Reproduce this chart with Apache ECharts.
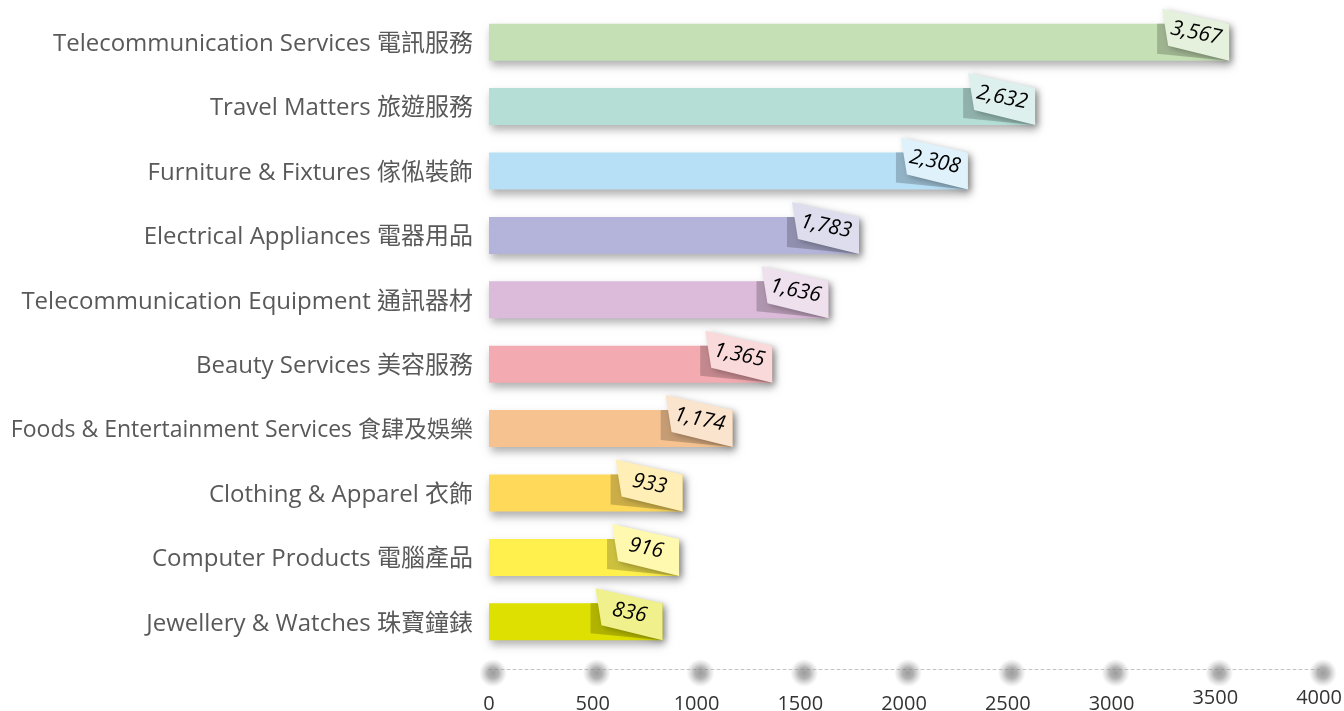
<!DOCTYPE html>
<html>
<head>
<meta charset="utf-8">
<script src="https://cdn.jsdelivr.net/npm/echarts@6/dist/echarts.min.js"></script>
<style>
  html,body{margin:0;padding:0;background:#fff;}
  #chart{width:1344px;height:711px;}
</style>
</head>
<body>
<div id="chart"></div>
<script>
// categories, top to bottom
var categories=[
  "Telecommunication Services 電訊服務",
  "Travel Matters 旅遊服務",
  "Furniture & Fixtures 傢俬裝飾",
  "Electrical Appliances 電器用品",
  "Telecommunication Equipment 通訊器材",
  "Beauty Services 美容服務",
  "Foods & Entertainment Services 食肆及娛樂",
  "Clothing & Apparel 衣飾",
  "Computer Products 電腦產品",
  "Jewellery & Watches 珠寶鐘錶"
];
var values=[3567,2632,2308,1783,1636,1365,1174,933,916,836];
var barColors=["#c5e0b4","#b4ded6","#b7dff6","#b4b4da","#dcbada","#f3aab0","#f6c390","#ffd95a","#fff04e","#dde000"];
var tickValues=[0,500,1000,1500,2000,2500,3000,3500,4000];

function hexRgb(h){
  return [parseInt(h.substr(1,2),16),parseInt(h.substr(3,2),16),parseInt(h.substr(5,2),16)];
}
function lighten(h,t){
  var c=hexRgb(h);
  return "rgb("+c.map((v)=>Math.round(v+(255-v)*t)).join(",")+")";
}
function darken(h,f){
  var c=hexRgb(h);
  return "rgb("+c.map((v)=>Math.round(v*f)).join(",")+")";
}

var chart=echarts.init(document.getElementById("chart"));

var barH=37;
function renderTag(params,api){
  var v=api.value(0);
  var idx=api.value(1);
  var p=api.coord([v,idx]);
  var xe=p[0],yt=p[1]-barH/2,yb=p[1]+barH/2;
  var col=barColors[params.dataIndex];
  return {
    type:"group",
    children:[
      {type:"polygon",shape:{points:[[xe-72,yt],[xe-64,yt],[xe,yb],[xe-72,yb-7]]},style:{fill:darken(col,0.8)}},
      {type:"polygon",shape:{points:[[xe-67,yt-15],[xe,yt],[xe,yb],[xe-61,yb-15]]},
        style:{fill:lighten(col,0.55),shadowBlur:6,shadowOffsetX:3,shadowOffsetY:2,shadowColor:"rgba(0,0,0,0.3)"}},
      {type:"text",x:xe-33,y:p[1]-9,rotation:-0.2,
        style:{text:v.toLocaleString("en-US"),font:"italic 21px 'Open Sans'",fill:"#000",align:"center",verticalAlign:"middle"}}
    ]
  };
}

var labelFont="'Open Sans', 'Noto Sans CJK TC'";
var option={
  animation:false,
  grid:[
    {left:489,right:25,top:10,height:644,outerBoundsMode:"none"},
    {left:489,right:25,top:669,height:1,outerBoundsMode:"none"}
  ],
  xAxis:[
    {
      type:"value",min:0,max:4000,interval:500,
      offset:15,
      splitLine:{show:false},
      axisLine:{show:true,lineStyle:{color:"#c4c4c4",type:[3,3],width:1}},
      axisTick:{show:false},
      axisLabel:{
        margin:16,color:"#333",fontSize:20,fontFamily:"Open Sans",
        formatter:(v)=>(v>=3500?"{h|"+v+"}":"{n|"+v+"}"),
        rich:{
          n:{lineHeight:38,fontSize:20,fontFamily:"Open Sans",color:"#333"},
          h:{lineHeight:26,fontSize:20,fontFamily:"Open Sans",color:"#333"}
        }
      }
    },
    {gridIndex:1,type:"value",min:0,max:4000,show:false}
  ],
  yAxis:[
    {
      type:"category",data:categories,inverse:true,
      axisLine:{show:false},axisTick:{show:false},
      axisLabel:{
        margin:16,color:"#595959",fontSize:24,fontFamily:labelFont,padding:[4,0,0,0],
        formatter:(v)=>(v.indexOf("Foods")===0?"{c|"+v+"}":v),
        rich:{c:{fontSize:23,fontFamily:labelFont,color:"#595959"}}
      }
    },
    {gridIndex:1,type:"value",min:0,max:1,show:false}
  ],
  series:[
    {
      type:"bar",
      data:values.map((v,i)=>({value:v,itemStyle:{color:barColors[i]}})),
      barWidth:barH,
      itemStyle:{shadowBlur:8,shadowOffsetX:2,shadowOffsetY:5,shadowColor:"rgba(0,0,0,0.3)"}
    },
    {
      type:"custom",
      renderItem:renderTag,
      encode:{x:0,y:1},
      data:values.map((v,i)=>[v,i]),
      z:5
    },
    {
      type:"scatter",
      xAxisIndex:1,yAxisIndex:1,
      data:tickValues.map((v)=>[v,0]),
      symbolSize:28,
      symbolOffset:[4,3],
      itemStyle:{color:{type:"radial",x:0.5,y:0.5,r:0.5,colorStops:[
        {offset:0,color:"rgba(125,125,125,0.95)"},
        {offset:0.4,color:"rgba(135,135,135,0.8)"},
        {offset:1,color:"rgba(170,170,170,0)"}
      ]}},
      z:1,silent:true
    }
  ]
};
chart.setOption(option);
</script>
</body>
</html>
